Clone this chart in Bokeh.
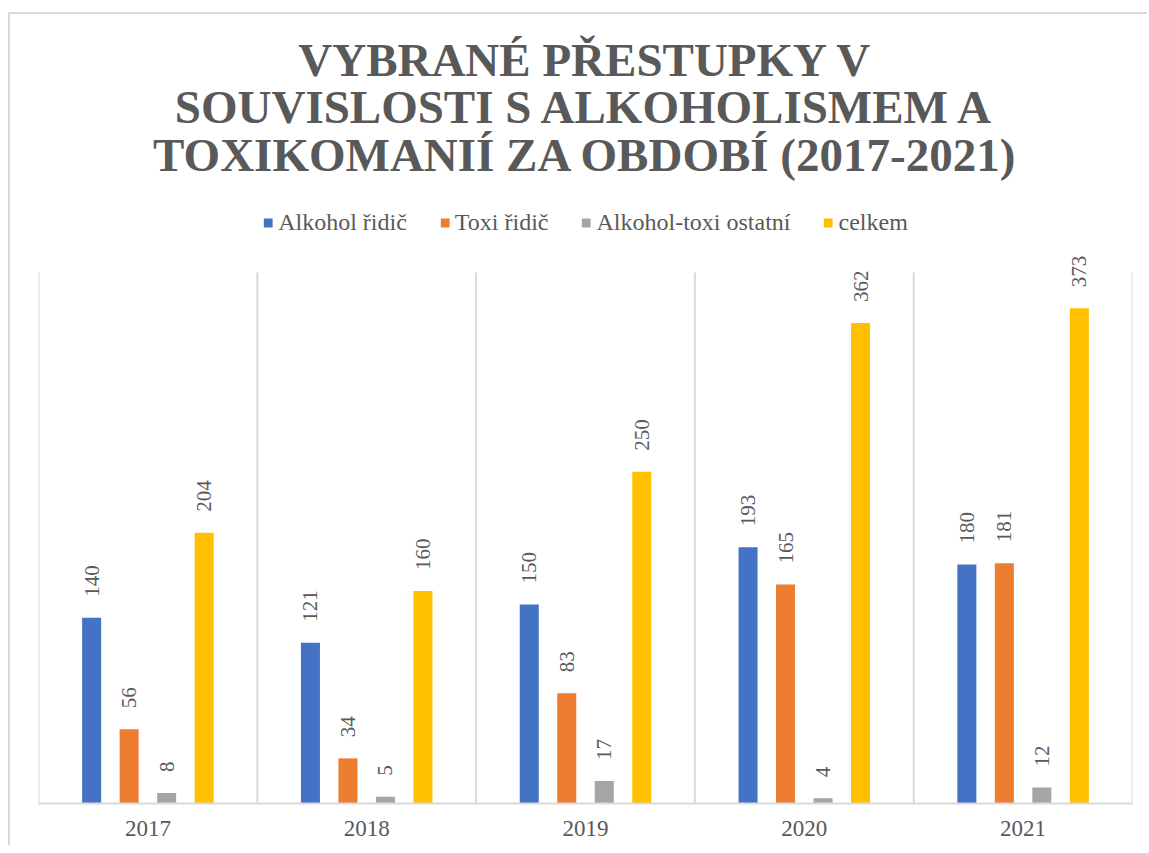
import numpy as np
from bokeh.plotting import figure
from bokeh.models import (ColumnDataSource, FixedTicker, Legend, LegendItem,
                          Range1d, Label)
from bokeh.transform import dodge
from bokeh.core.properties import value
from bokeh.embed import file_html
from bokeh.resources import INLINE

# ---- data ----
years = ["2017", "2018", "2019", "2020", "2021"]
alkohol_ridic = [140, 121, 150, 193, 180]
toxi_ridic = [56, 34, 83, 165, 181]
alkohol_toxi_ostatni = [8, 5, 17, 4, 12]
celkem = [204, 160, 250, 362, 373]
series_keys = ["alkohol_ridic", "toxi_ridic", "alkohol_toxi_ostatni", "celkem"]
series_names = ["Alkohol řidič", "Toxi řidič", "Alkohol-toxi ostatní", "celkem"]
series_colors = ["#4472C4", "#ED7D31", "#A5A5A5", "#FFC000"]
title_lines = ["VYBRANÉ PŘESTUPKY V",
               "SOUVISLOSTI S ALKOHOLISMEM A",
               "TOXIKOMANIÍ ZA OBDOBÍ (2017-2021)"]
axis_max = 400

TEXT = "#595959"
GRID = "#D9D9D9"
FONT = "Liberation Serif"

# ---- layout (pixels) ----
FRAME_W = 1094
FRAME_H = 789          # whole area above the category axis (title + legend + bars)
AXIS_PX = 531          # height used by the value scale 0..axis_max
y_end = axis_max * FRAME_H / AXIS_PX
title_mid_from_bottom = [744, 697, 649]

n = len(years)
data = dict(x=np.arange(n) + 0.5, years=years,
            alkohol_ridic=alkohol_ridic, toxi_ridic=toxi_ridic,
            alkohol_toxi_ostatni=alkohol_toxi_ostatni, celkem=celkem)
for k in series_keys:
    data[k + "_lbl"] = [str(v) for v in data[k]]
src = ColumnDataSource(data)

bounds = np.arange(n + 1)
grid_src = ColumnDataSource(dict(x=bounds, y0=np.zeros(n + 1),
                                 y1=np.full(n + 1, axis_max)))

p = figure(frame_width=FRAME_W, frame_height=FRAME_H,
           x_range=Range1d(0, n), y_range=Range1d(0, y_end),
           output_backend="svg", toolbar_location=None,
           min_border_left=28, min_border_right=15,
           min_border_top=0, min_border_bottom=42)
p.styles = {"border-left": "2px solid #D9D9D9", "border-top": "2px solid #D9D9D9",
            "margin-left": "8px", "margin-top": "12px"}
p.title = None
p.outline_line_color = None
p.background_fill_color = "white"

# category separator lines (Excel-style vertical gridlines)
p.segment(x0="x", y0="y0", x1="x", y1="y1", source=grid_src,
          line_color=GRID, line_width=2)

step = 0.1714
bw = 0.087
items = []
for i, (k, name, col) in enumerate(zip(series_keys, series_names, series_colors)):
    off = (i - 1.5) * step
    r = p.vbar(x=dodge("x", off), top=k, width=bw, source=src,
               fill_color=col, line_color=None)
    p.text(x=dodge("x", off), y=k, text=k + "_lbl", source=src,
           angle=np.pi / 2, text_align="left", text_baseline="middle",
           y_offset=-21, text_font=value(FONT), text_font_size="21px",
           text_color=TEXT)
    items.append(LegendItem(label=name, renderers=[r]))

legend = Legend(items=items, orientation="horizontal", location="top_center",
                glyph_width=11, glyph_height=11, label_standoff=5, spacing=32,
                padding=0, margin=195, border_line_color=None,
                background_fill_alpha=0, label_height=24,
                label_text_font=FONT, label_text_font_size="24px",
                label_text_color=TEXT)
p.add_layout(legend, "center")

for line, ym in zip(title_lines, title_mid_from_bottom):
    p.add_layout(Label(x=FRAME_W / 2, y=ym, x_units="screen", y_units="screen",
                       text=line, text_align="center", text_baseline="middle",
                       text_font=FONT, text_font_style="bold",
                       text_font_size="47px", text_color=TEXT))

# axes & grid
p.yaxis.visible = False
p.ygrid.grid_line_color = None
p.xgrid.grid_line_color = None
p.xaxis.ticker = FixedTicker(ticks=list(data["x"]))
p.xaxis.major_label_overrides = {float(c): y for c, y in zip(data["x"], years)}
p.xaxis.axis_line_color = GRID
p.xaxis.axis_line_width = 2
p.xaxis.major_tick_line_color = None
p.xaxis.minor_tick_line_color = None
p.xaxis.major_tick_out = 0
p.xaxis.major_tick_in = 0
p.xaxis.major_label_standoff = 17
p.xaxis.major_label_text_font = FONT
p.xaxis.major_label_text_font_size = "23px"
p.xaxis.major_label_text_color = TEXT

open("out.html", "w").write(file_html(p, INLINE))
